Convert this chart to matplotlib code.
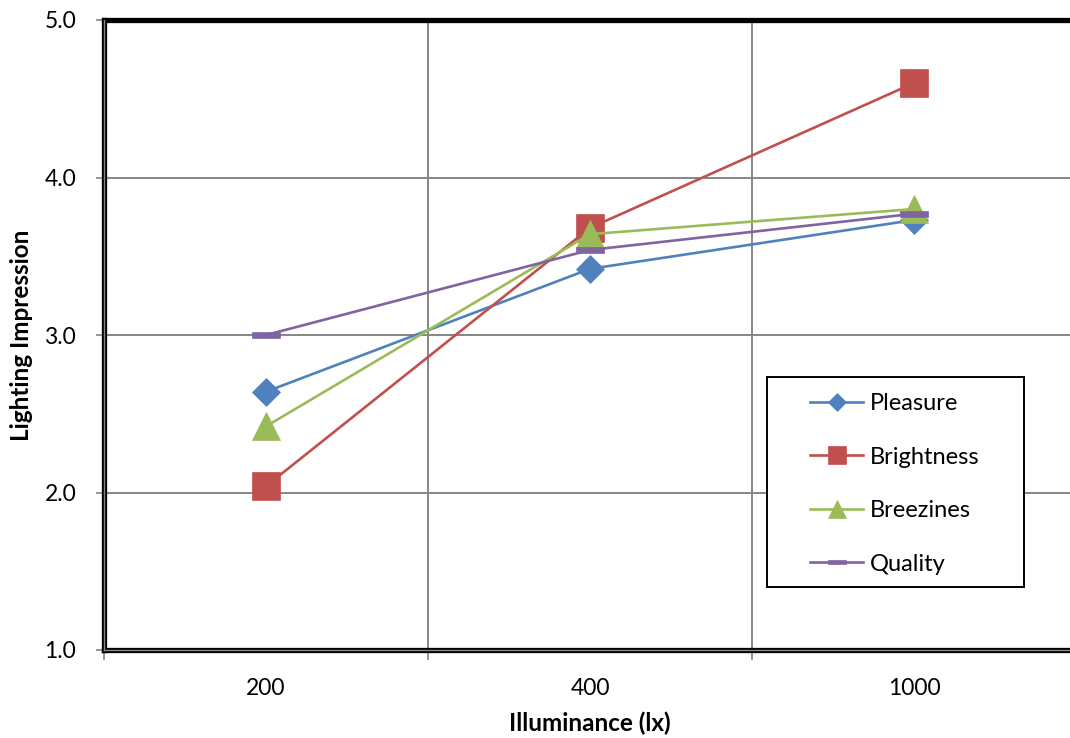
import matplotlib
matplotlib.use("Agg")
import matplotlib.pyplot as plt
from matplotlib.path import Path
from matplotlib.patches import Rectangle

plt.rcParams["font.family"] = ["Lato", "DejaVu Sans"]

illuminance = ["200", "400", "1000"]
pleasure = [2.64, 3.42, 3.73]
brightness = [2.04, 3.68, 4.60]
breezines = [2.42, 3.64, 3.80]
quality = [3.00, 3.54, 3.77]

y_ticks = [1.0, 2.0, 3.0, 4.0, 5.0]

# flat bar marker like the Excel "dash"
dash = Path([(-0.5, -0.12), (0.5, -0.12), (0.5, 0.12), (-0.5, 0.12), (-0.5, -0.12)],
            [Path.MOVETO, Path.LINETO, Path.LINETO, Path.LINETO, Path.CLOSEPOLY])

series = [
    ("Pleasure", pleasure, "#4F81BD", "D", 14.5),
    ("Brightness", brightness, "#C0504D", "s", 20),
    ("Breezines", breezines, "#9BBB59", "^", 20),
    ("Quality", quality, "#8064A2", dash, 20),
]

fig = plt.figure(figsize=(10.7, 7.38), dpi=100)
ax = fig.add_axes([104 / 1070, 1 - 650 / 738, 972 / 1070, 630 / 738])

x = list(range(len(illuminance)))
for name, vals, col, mk, ms in series:
    ax.plot(x, vals, color=col, lw=1.9, marker=mk, markersize=ms,
            markerfacecolor=col, markeredgecolor=col, markeredgewidth=0.5,
            label=name, zorder=3, clip_on=False)

ax.set_xlim(-0.5, len(illuminance) - 0.5)
ax.set_ylim(1, 5)

ax.set_xticks(x)
ax.set_xticklabels(illuminance)
ax.set_xticks([i - 0.5 for i in range(len(illuminance) + 1)], minor=True)
ax.set_yticks(y_ticks)
ax.set_yticklabels([f"{v:.1f}" for v in y_ticks])

ax.tick_params(axis="x", which="major", length=0, pad=20, labelsize=16.5)
ax.tick_params(axis="x", which="minor", length=7, width=1.2, color="#868686")
ax.tick_params(axis="y", length=6, width=1.2, color="#868686", pad=14, labelsize=16.5)

ax.grid(False)
for yy in y_ticks[1:-1]:
    ax.axhline(yy, color="#868686", lw=1.4, zorder=1)
for xx in [0.5, 1.5]:
    ax.axvline(xx, color="#868686", lw=1.4, zorder=1)

for side in ["top", "right", "left", "bottom"]:
    ax.spines[side].set_color("black")
    ax.spines[side].set_linewidth(3.8)
    ax.spines[side].set_zorder(4)
ax.axvline(-0.5, color="#868686", lw=1.0, zorder=5, clip_on=False)
ax.axhline(1, color="#868686", lw=1.0, zorder=5, clip_on=False)

ax.set_xlabel("Illuminance (lx)", fontsize=17.5, fontweight="bold", labelpad=9)
ax.set_ylabel("Lighting Impression", fontsize=17.5, fontweight="bold", labelpad=8)

# legend box drawn by hand, the entries placed inside it
box = Rectangle((767 / 1070, 1 - 587 / 738), 257 / 1070, 210 / 738,
                transform=fig.transFigure, facecolor="white", edgecolor="black",
                lw=1.4, zorder=5, clip_on=False)
ax.add_patch(box)

leg = ax.legend(loc="upper left", bbox_to_anchor=(810 / 1070, 1 - 393 / 738),
                bbox_transform=fig.transFigure, fontsize=17, frameon=False,
                handlelength=2.25, handletextpad=0.3, labelspacing=1.38,
                borderpad=0, borderaxespad=0, markerscale=0.65)
leg.set_zorder(6)

fig.savefig("out.png", dpi=100)
